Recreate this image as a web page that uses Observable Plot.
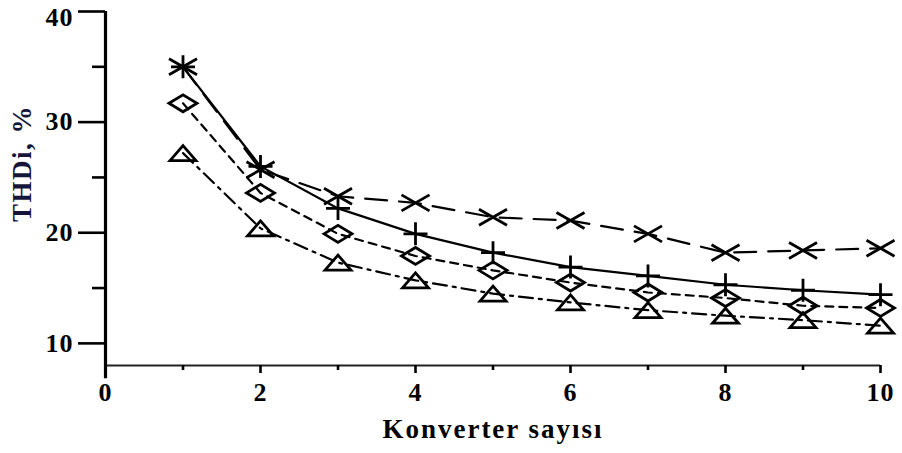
<!DOCTYPE html>
<html>
<head>
<meta charset="utf-8">
<script src="https://cdn.jsdelivr.net/npm/d3@7"></script>
<script src="https://cdn.jsdelivr.net/npm/@observablehq/plot@0.6"></script>
<style>
  html, body { margin: 0; padding: 0; background: #fff; }
  #chart { width: 902px; height: 453px; }
</style>
</head>
<body>
<div id="chart"></div>
<script>
// Converter count on the x axis
const counts = [1, 2, 3, 4, 5, 6, 7, 8, 9, 10];

// THDi (%) for each of the four configurations
const thdCross    = [35.0, 25.7, 23.3, 22.7, 21.4, 21.1, 19.9, 18.2, 18.4, 18.6];
const thdPlus     = [35.0, 26.0, 22.2, 19.9, 18.2, 16.9, 16.1, 15.3, 14.8, 14.4];
const thdDiamond  = [31.7, 23.6, 19.9, 17.9, 16.6, 15.5, 14.6, 14.1, 13.4, 13.2];
const thdTriangle = [27.2, 20.4, 17.3, 15.7, 14.5, 13.7, 13.0, 12.5, 12.1, 11.6];

// Axis ticks
const yMajorTicks = [10, 20, 30, 40];
const yMinorTicks = [15, 25, 35];
const xMajorTicks = [0, 2, 4, 6, 8, 10];
const xMinorTicks = [1, 3, 5, 7, 9];

const xLabel = "Konverter sayısı";
const yLabel = "THDi, %";

// Flattened marker shapes (fixed pixel geometry)
const symX = {draw(ctx) { ctx.moveTo(-14, -8); ctx.lineTo(14, 8); ctx.moveTo(-14, 8); ctx.lineTo(14, -8); }};
const symPlus = {draw(ctx) { ctx.moveTo(-12, 0); ctx.lineTo(12, 0); ctx.moveTo(0, -11.5); ctx.lineTo(0, 11.5); }};
const symDiamond = {draw(ctx) { ctx.moveTo(-14, 0); ctx.lineTo(0, -8.5); ctx.lineTo(14, 0); ctx.lineTo(0, 8.5); ctx.closePath(); }};
const symTriangle = {draw(ctx) { ctx.moveTo(-13, 7.5); ctx.lineTo(0, -7.5); ctx.lineTo(13, 7.5); ctx.closePath(); }};

const toRows = (vals) => counts.map((n, i) => ({n, v: vals[i]}));
const series = [
  {rows: toRows(thdCross),    dash: "22,12",     sym: symX},
  {rows: toRows(thdPlus),     dash: null,        sym: symPlus},
  {rows: toRows(thdDiamond),  dash: "8,6",       sym: symDiamond},
  {rows: toRows(thdTriangle), dash: "14,6,3,6",  sym: symTriangle}
];

const font = "'Liberation Serif', 'Times New Roman', serif";

const marks = [];
for (const s of series) {
  marks.push(Plot.line(s.rows, {x: "n", y: "v", stroke: "#000", strokeWidth: 2.2, strokeDasharray: s.dash}));
}
for (const s of series) {
  marks.push(Plot.dot(s.rows, {x: "n", y: "v", symbol: s.sym, r: 5, stroke: "#000", strokeWidth: 2.8, fill: "none"}));
}

const chart = Plot.plot({
  width: 902,
  height: 453,
  marginLeft: 105,
  marginRight: 22,
  marginTop: 11,
  marginBottom: 88,
  style: {fontFamily: font, background: "#fff", color: "#000"},
  x: {domain: [0, 10]},
  y: {domain: [8, 40]},
  marks: [
    // axis lines
    Plot.ruleY([8], {x1: 0, x2: 10, stroke: "#222", strokeWidth: 2.2}),
    Plot.ruleX([0], {y1: 40, y2: 6.8, stroke: "#000", strokeWidth: 3.2}),
    // y axis ticks
    Plot.axisY({ticks: yMajorTicks, tickSize: 27, tickPadding: 5, strokeWidth: 2.6, label: null}),
    Plot.axisY({ticks: yMinorTicks, tickSize: 13, strokeWidth: 2.6, text: null, label: null}),
    // y axis title, rotated, in the left margin
    Plot.text([yLabel], {text: d => d, frameAnchor: "top-left", rotate: -90, dx: -83, dy: 152,
      textAnchor: "middle", lineAnchor: "middle"}),
    // x axis ticks
    Plot.axisX({ticks: xMajorTicks, tickSize: 8, tickPadding: 9, strokeWidth: 2.6,
      label: xLabel, labelAnchor: "center", labelOffset: 72, labelArrow: "none"}),
    Plot.axisX({ticks: xMinorTicks, tickSize: 5, strokeWidth: 2.6, text: null, label: null}),
    ...marks
  ]
});

// All text in this chart belongs to the axes: large bold serif
const texts = d3.select(chart).selectAll("text");
texts.attr("font-size", null)
  .style("font-size", "26px")
  .style("font-weight", "bold")
  .style("letter-spacing", "1px")
  .style("fill", "#000");
texts.filter(function() { return this.textContent === xLabel; })
  .style("font-size", "27px")
  .style("letter-spacing", "2px");
texts.filter(function() { return this.textContent === yLabel; })
  .style("font-size", "27px")
  .style("letter-spacing", "1.5px")
  .style("fill", "#15153a");
// keep the top tick label inside the picture
texts.filter(function() { return this.textContent === String(yMajorTicks[yMajorTicks.length - 1]); })
  .attr("dy", "0.24em");

document.getElementById("chart").appendChild(chart);
</script>
</body>
</html>
